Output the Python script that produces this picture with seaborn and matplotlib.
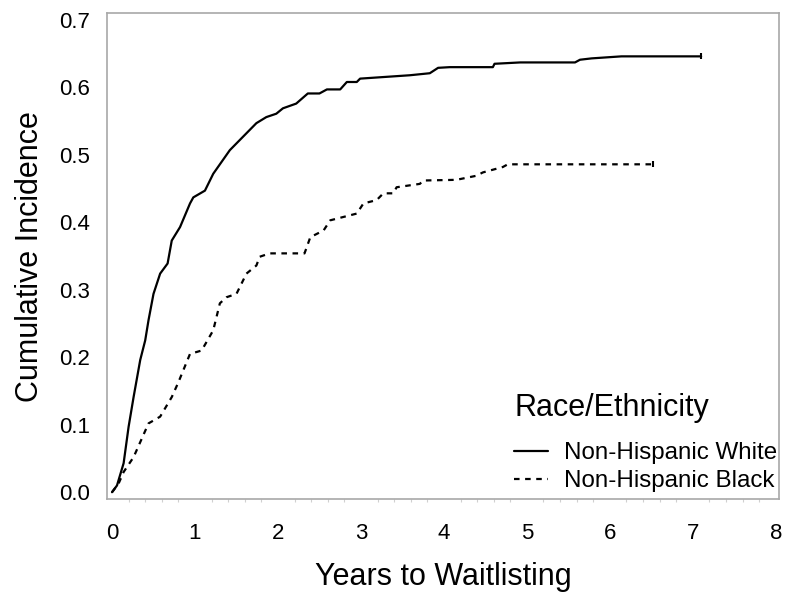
import pandas as pd
import numpy as np
import seaborn as sns
import matplotlib.pyplot as plt
from matplotlib.ticker import MultipleLocator

white_years = [0, 0.06, 0.14, 0.20, 0.26, 0.34, 0.40, 0.44, 0.50, 0.58, 0.67, 0.72, 0.82,
               0.94, 0.98, 1.12, 1.22, 1.42, 1.62, 1.74, 1.86, 1.98, 2.06, 2.22, 2.36, 2.50,
               2.59, 2.75, 2.83, 2.95, 2.99, 3.23, 3.59, 3.83, 3.93, 4.07, 4.59, 4.61, 4.92,
               5.58, 5.64, 5.78, 6.14, 7.10]
white_inc = [0, 0.010, 0.043, 0.097, 0.141, 0.196, 0.225, 0.255, 0.294, 0.324, 0.339, 0.373,
             0.393, 0.428, 0.437, 0.447, 0.472, 0.507, 0.532, 0.547, 0.556, 0.561, 0.569,
             0.576, 0.591, 0.591, 0.597, 0.597, 0.608, 0.608, 0.613, 0.615, 0.618, 0.621,
             0.629, 0.630, 0.630, 0.635, 0.637, 0.637, 0.641, 0.643, 0.646, 0.646]

black_years = [0, 0.08, 0.14, 0.26, 0.44, 0.58, 0.72, 0.80, 0.94, 1.08, 1.22, 1.30, 1.38,
               1.50, 1.62, 1.74, 1.78, 1.90, 2.32, 2.39, 2.55, 2.63, 2.95, 3.03, 3.19, 3.27,
               3.39, 3.43, 3.71, 3.75, 4.15, 4.39, 4.47, 4.71, 4.77, 6.52]
black_inc = [0, 0.013, 0.030, 0.052, 0.102, 0.112, 0.141, 0.163, 0.205, 0.210, 0.240, 0.280,
             0.289, 0.294, 0.324, 0.336, 0.349, 0.354, 0.354, 0.378, 0.388, 0.403, 0.413,
             0.428, 0.433, 0.443, 0.443, 0.452, 0.457, 0.462, 0.463, 0.469, 0.474, 0.482,
             0.486, 0.486]

groups = ["Non-Hispanic White", "Non-Hispanic Black"]

df = pd.concat([
    pd.DataFrame({"years": white_years, "inc": white_inc, "group": groups[0]}),
    pd.DataFrame({"years": black_years, "inc": black_inc, "group": groups[1]}),
])

sns.set_style("white")
plt.rcParams["font.family"] = ["Liberation Sans", "DejaVu Sans"]
plt.rcParams["text.color"] = "black"
plt.rcParams["axes.labelcolor"] = "black"

fig = plt.figure(figsize=(7.87, 5.99), dpi=100)
ax = fig.add_axes([0.136, 0.167, 0.854, 0.811])

sns.lineplot(data=df, x="years", y="inc", style="group", style_order=groups,
             dashes={groups[0]: "", groups[1]: (2.5, 2.5)},
             color="black", linewidth=1.6, sort=False, estimator=None, ax=ax)

# censoring tick at the end of each curve
ends = df.groupby("group", sort=False).tail(1)
sns.scatterplot(data=ends, x="years", y="inc", marker="|", s=20, color="black",
                linewidth=1.5, legend=False, ax=ax)

ax.set_xlim(-0.06, 8.04)
ax.set_ylim(-0.01, 0.71)
ax.xaxis.set_major_locator(MultipleLocator(1))
ax.xaxis.set_minor_locator(MultipleLocator(0.2))
ax.yaxis.set_major_locator(MultipleLocator(0.1))
ax.yaxis.set_major_formatter(plt.FormatStrFormatter("%.1f"))

for s in ax.spines.values():
    s.set_color("#a8a8a8")
    s.set_linewidth(1.2)
ax.tick_params(axis="both", which="major", direction="out", color="#a8a8a8",
               labelsize=16, labelcolor="black", width=1.1)
ax.tick_params(axis="x", which="major", length=9, pad=8.5)
ax.tick_params(axis="y", which="major", length=7, pad=5)
ax.tick_params(axis="x", which="minor", bottom=True, direction="out", length=2.5,
               color="#d0d0d0", width=0.8)

ax.set_xlabel("Years to Waitlisting", fontsize=22, labelpad=13)
ax.set_ylabel("Cumulative Incidence", fontsize=22, labelpad=10)

leg = ax.legend(title="Race/Ethnicity", loc="lower right", bbox_to_anchor=(1.011, -0.006),
                frameon=False, fontsize=17.4, title_fontsize=22, handlelength=1.4,
                handletextpad=0.65, labelspacing=0.25, borderaxespad=0.0, alignment="left")
leg._legend_box.sep = 14

fig.savefig("out.png", dpi=100)
